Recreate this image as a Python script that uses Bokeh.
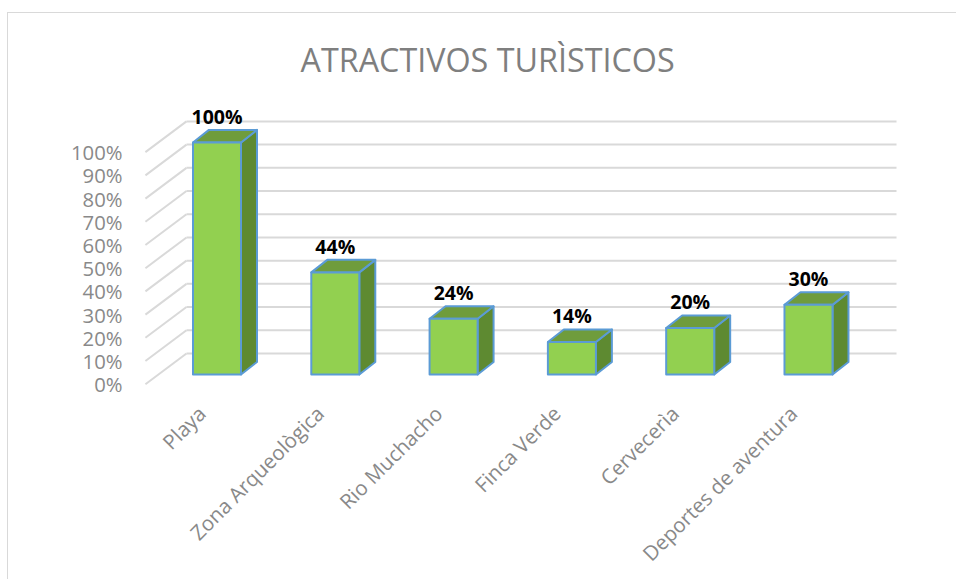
import math
from bokeh.plotting import figure
from bokeh.models import (Range1d, LinearAxis, FixedTicker, PrintfTickFormatter,
                          ColumnDataSource)
from bokeh.core.properties import value
from bokeh.embed import file_html
from bokeh.resources import INLINE

# ---- data ----
categories = ["Playa", "Zona Arqueològica", "Rio Muchacho", "Finca Verde",
              "Cervecerìa", "Deportes de aventura"]
percentages = [100, 44, 24, 14, 20, 30]
labels = ["100%", "44%", "24%", "14%", "20%", "30%"]
y_ticks = [0, 10, 20, 30, 40, 50, 60, 70, 80, 90, 100]
title_text = "ATRACTIVOS TURÌSTICOS"

# ---- 3D geometry (layout constants, in data units) ----
n = len(categories)
HW = 0.203          # half width of bar front face
DDX = 0.135         # bar depth, x
DDY = 5.4           # bar depth, y (percent units)
WALL_BACK_DY = 9.05 # back wall offset from bar scale
AXIS_DY = -4.2      # front edge of side wall offset
X_WALL_FRONT = -0.605
X_WALL_BACK = -0.258
X_WALL_END = n - 0.256
LABEL_SHIFT = 0.13

Y_START, Y_END = -7.76, 117.2
X_START, X_END = -0.6467, 5.82

p = figure(width=948, height=557, frame_width=765, frame_height=290,
           x_range=Range1d(X_START, X_END), y_range=Range1d(Y_START, Y_END),
           output_backend="svg", toolbar_location=None, y_axis_location=None,
           x_axis_location=None,
           min_border_left=132, min_border_right=51, min_border_top=84,
           min_border_bottom=183)
p.styles = {"margin-left": "7px", "margin-top": "12px",
            "border-style": "solid", "border-color": "#d9d9d9",
            "border-width": "1px 0px 0px 1px"}
p.outline_line_color = None
p.grid.visible = False
p.background_fill_color = "white"
p.border_fill_color = "white"

# title
p.title.text = title_text
p.title.align = "left"
p.title.offset = 160
p.title.text_font = "Open Sans"
p.title.text_font_size = "32.3px"
p.title.text_font_style = "normal"
p.title.text_color = "#7f7f7f"
p.title.standoff = 43

# ---- walls: gridlines ----
gx0, gx1, gy0, gy1 = [], [], [], []
dx0, dx1, dy0, dy1 = [], [], [], []
for t in y_ticks:
    gx0.append(X_WALL_BACK); gx1.append(X_WALL_END)
    gy0.append(t + WALL_BACK_DY); gy1.append(t + WALL_BACK_DY)
    dx0.append(X_WALL_FRONT); dx1.append(X_WALL_BACK)
    dy0.append(t + AXIS_DY); dy1.append(t + WALL_BACK_DY)
p.segment(gx0, gy0, gx1, gy1, line_color="#d9d9d9", line_width=2)
p.segment(dx0, dy0, dx1, dy1, line_color="#d9d9d9", line_width=2)

# ---- bars ----
xs = list(range(n))
side_x, side_y, top_x, top_y = [], [], [], []
for x, v in zip(xs, percentages):
    side_x.append([x + HW, x + HW, x + HW + DDX, x + HW + DDX])
    side_y.append([0, v, v + DDY, DDY])
    top_x.append([x - HW, x + HW, x + HW + DDX, x - HW + DDX])
    top_y.append([v, v, v + DDY, v + DDY])
outline = dict(line_color="#5B9BD5", line_width=2, line_join="round")
p.patches(side_x, side_y, fill_color="#5E8A31", **outline)
p.patches(top_x, top_y, fill_color="#6F9C3C", **outline)
src = ColumnDataSource(dict(x=xs, v=percentages, lab=labels,
                            ly=[v + DDY + 5.9 for v in percentages]))
p.quad(left=[x - HW for x in xs], right=[x + HW for x in xs],
       bottom=[0] * n, top=percentages, fill_color="#92D050", **outline)
p.text(x="x", y="ly", text="lab", source=src, text_align="center",
       text_baseline="alphabetic", text_font=value("Open Sans"),
       text_font_size="19.5px", text_font_style="bold", text_color="black")

# ---- axes ----
p.extra_y_ranges = {"ax": Range1d(Y_START - AXIS_DY, Y_END - AXIS_DY)}
yax = LinearAxis(y_range_name="ax", ticker=FixedTicker(ticks=y_ticks),
                 formatter=PrintfTickFormatter(format="%d%%"))
yax.axis_line_color = None
yax.major_tick_line_color = None
yax.minor_tick_line_color = None
yax.major_tick_out = 0
yax.major_tick_in = 0
yax.major_label_standoff = 18
yax.major_label_text_font = "Open Sans"
yax.major_label_text_font_size = "20.3px"
yax.major_label_text_color = "#898989"
p.add_layout(yax, "left")

p.extra_x_ranges = {"cat": Range1d(X_START + LABEL_SHIFT, X_END + LABEL_SHIFT)}
xax = LinearAxis(x_range_name="cat", ticker=FixedTicker(ticks=xs))
xax.major_label_overrides = {i: c for i, c in enumerate(categories)}
xax.major_label_orientation = math.pi / 4
xax.axis_line_color = None
xax.major_tick_line_color = None
xax.minor_tick_line_color = None
xax.major_tick_out = 0
xax.major_tick_in = 0
xax.major_label_standoff = 17
xax.major_label_text_font = "Open Sans"
xax.major_label_text_font_size = "20.5px"
xax.major_label_text_color = "#898989"
p.add_layout(xax, "below")

open("out.html", "w").write(file_html(p, INLINE))
